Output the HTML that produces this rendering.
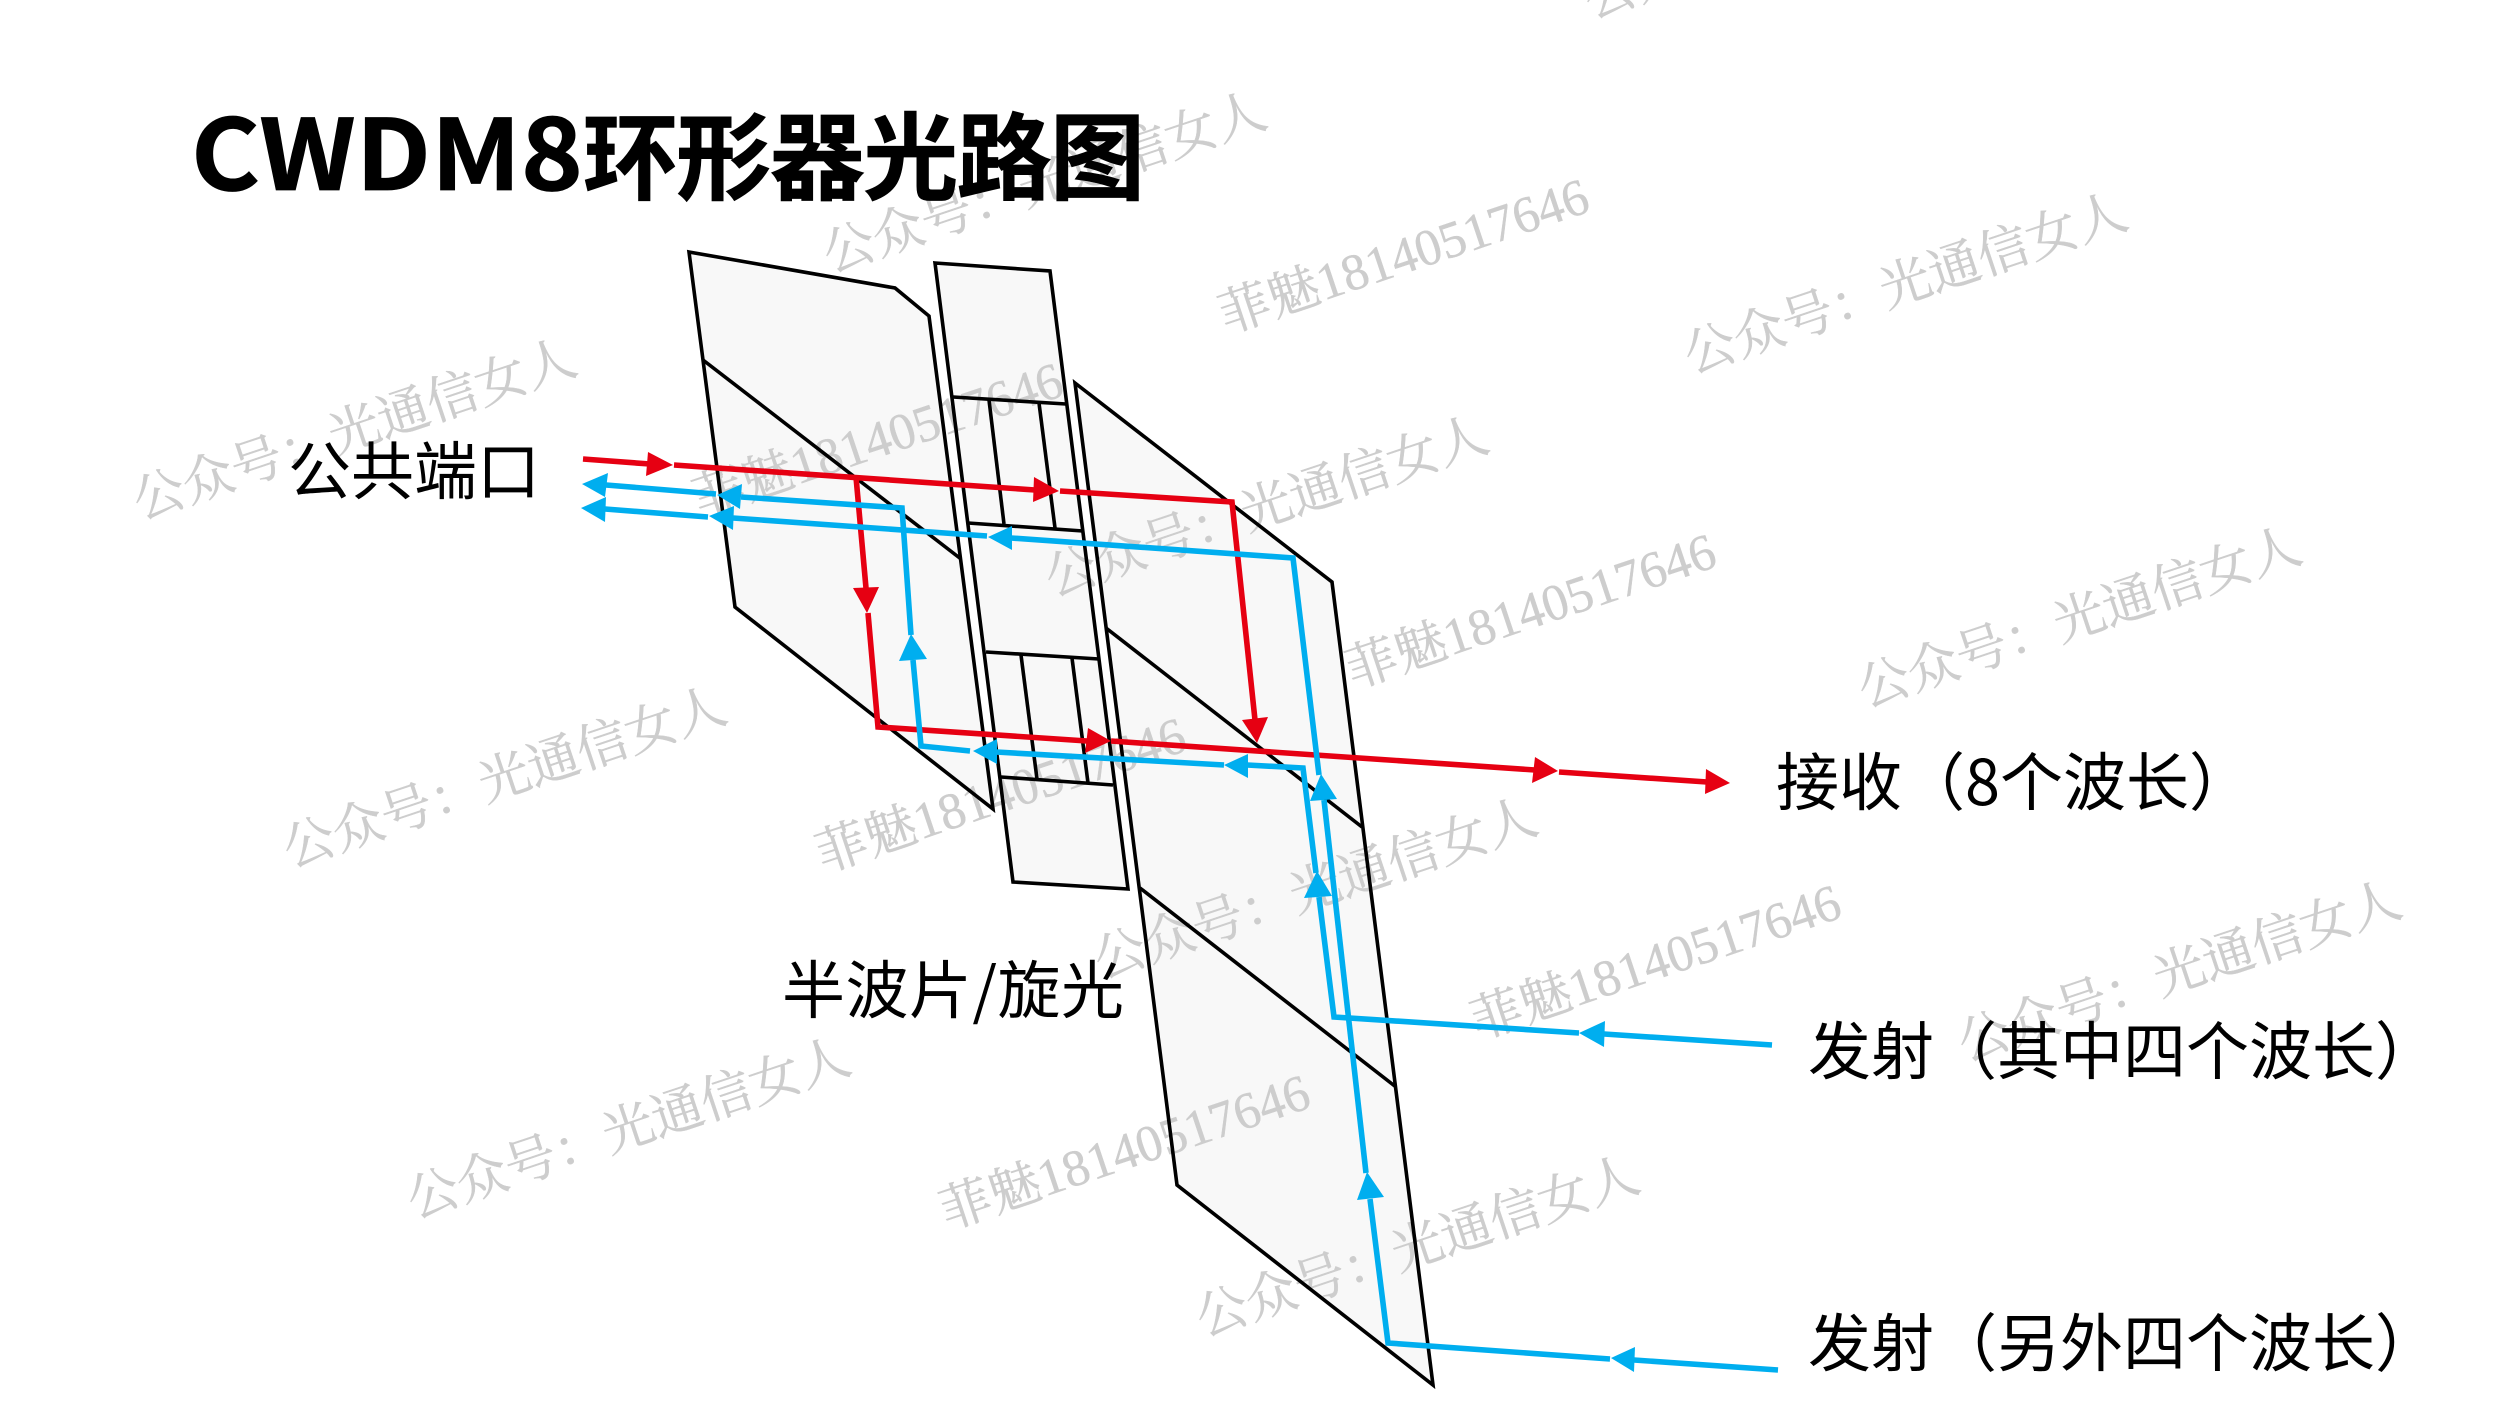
<!DOCTYPE html>
<html lang="zh">
<head>
<meta charset="utf-8">
<title>CWDM8环形器光路图</title>
<style>
html,body{margin:0;padding:0;background:#fff;width:2500px;height:1406px;overflow:hidden}
svg{display:block}
.f{fill:#f8f8f8;stroke:none}
.p{fill:none;stroke:#000;stroke-width:3.6;stroke-linejoin:miter}
.k{fill:none;stroke:#000;stroke-width:3.6}
.r{fill:none;stroke:#e60012;stroke-width:5.6;stroke-linejoin:miter}
.b{fill:none;stroke:#00aeef;stroke-width:5.6;stroke-linejoin:miter}
.ra{fill:#e60012}
.ba{fill:#00aeef}
.c{font-family:"Noto Sans CJK SC",sans-serif;font-size:63px;fill:#000}
.h{font-family:"Noto Sans CJK SC",sans-serif;font-weight:700;fill:#000;stroke:#000;stroke-width:.8}
.w{font-family:"Liberation Serif","Noto Serif CJK SC",serif;font-size:51.5px;fill:#cdcdcd;stroke:#cdcdcd;stroke-width:.4;text-anchor:middle}
</style>
</head>
<body>
<svg width="2500" height="1406" viewBox="0 0 2500 1406" xmlns="http://www.w3.org/2000/svg">
<rect width="2500" height="1406" fill="#fff"/>

<!-- prism fills -->
<polygon class="f" points="689,252 895,288 929,316 993,809 735,607"/>
<polygon class="f" points="935,263 1050,271 1128,889 1013,882"/>
<polygon class="f" points="1075,383 1332,582 1433,1385 1177,1185"/>

<!-- watermarks -->
<g>
<text class="w" transform="translate(360,446) rotate(-18.5)">公众号：光通信女人</text>
<text class="w" transform="translate(1050,199) rotate(-18.5)">公众号：光通信女人</text>
<text class="w" transform="translate(1911,300) rotate(-18.5)">公众号：光通信女人</text>
<text class="w" transform="translate(1272,523) rotate(-18.5)">公众号：光通信女人</text>
<text class="w" transform="translate(510,794) rotate(-18.5)">公众号：光通信女人</text>
<text class="w" transform="translate(2085,634) rotate(-18.5)">公众号：光通信女人</text>
<text class="w" transform="translate(1321,905) rotate(-18.5)">公众号：光通信女人</text>
<text class="w" transform="translate(2185,988) rotate(-18.5)">公众号：光通信女人</text>
<text class="w" transform="translate(634,1145) rotate(-18.5)">公众号：光通信女人</text>
<text class="w" transform="translate(1423,1263) rotate(-18.5)">公众号：光通信女人</text>
<text class="w" transform="translate(1811,-55) rotate(-18.5)">公众号：光通信女人</text>
<text class="w" transform="translate(1409,272) rotate(-18.5)">菲魅18140517646</text>
<text class="w" transform="translate(883,456) rotate(-18.5)">菲魅18140517646</text>
<text class="w" transform="translate(1536,627) rotate(-18.5)">菲魅18140517646</text>
<text class="w" transform="translate(1006,811) rotate(-18.5)">菲魅18140517646</text>
<text class="w" transform="translate(1661,978) rotate(-18.5)">菲魅18140517646</text>
<text class="w" transform="translate(1130,1168) rotate(-18.5)">菲魅18140517646</text>
</g>

<text class="h" x="191" y="190" font-size="98" textLength="392" lengthAdjust="spacingAndGlyphs">CWDM8</text>
<text class="h" x="583" y="192" font-size="95" textLength="562" lengthAdjust="spacing">环形器光路图</text>

<polygon class="p" points="689,252 895,288 929,316 993,809 735,607"/>
<line class="k" x1="703" y1="360" x2="961" y2="559"/>

<polygon class="p" points="935,263 1050,271 1128,889 1013,882"/>
<line class="k" x1="953" y1="397" x2="1066" y2="404"/>
<line class="k" x1="968" y1="523" x2="1083" y2="531"/>
<line class="k" x1="986" y1="652" x2="1099" y2="659"/>
<line class="k" x1="1001" y1="777" x2="1113" y2="785"/>
<line class="k" x1="989" y1="400" x2="1004" y2="524"/>
<line class="k" x1="1039" y1="403" x2="1055" y2="528"/>
<line class="k" x1="1021" y1="655" x2="1037" y2="779"/>
<line class="k" x1="1072" y1="658" x2="1088" y2="783"/>

<polygon class="p" points="1075,383 1332,582 1433,1385 1177,1185"/>
<line class="k" x1="1106" y1="628" x2="1362" y2="827"/>
<line class="k" x1="1140" y1="888" x2="1396" y2="1087"/>

<!-- red paths -->
<polyline class="r" points="583,459 650,464"/>
<polygon class="ra" points="648,452 673,465 646,476"/>
<polyline class="r" points="674,465 1035,490"/>
<polygon class="ra" points="1034,477 1059,491 1033,502"/>
<polyline class="r" points="1060,491 1232,502 1255,720"/>
<polygon class="ra" points="1242,720 1268,717 1257,743"/>
<polyline class="r" points="856,477 866,588"/>
<polygon class="ra" points="853,588 879,587 867,613"/>
<polyline class="r" points="868,613 878,727 1087,741"/>
<polygon class="ra" points="1088,728 1111,741 1085,753"/>
<polyline class="r" points="1111,741 1535,770"/>
<polygon class="ra" points="1535,757 1558,771 1532,783"/>
<polyline class="r" points="1559,772 1707,782"/>
<polygon class="ra" points="1706,769 1730,783 1705,794"/>

<!-- blue path 1 -->
<polyline class="b" points="1772,1045 1604,1034"/>
<polygon class="ba" points="1605,1021 1579,1033 1604,1047"/>
<polyline class="b" points="1579,1033 1334,1017 1319,897"/>
<polygon class="ba" points="1304,898 1317,871 1332,896"/>
<polyline class="b" points="1316,873 1303,768 1247,765"/>
<polygon class="ba" points="1248,754 1224,765 1248,778"/>
<polyline class="b" points="1224,765 996,752"/>
<polygon class="ba" points="997,739 973,751 997,764"/>
<polyline class="b" points="970,751 921,746 913,660"/>
<polygon class="ba" points="899,661 911,634 927,659"/>
<polyline class="b" points="911,635 902,508 741,497"/>
<polygon class="ba" points="742,484 717,495 740,509"/>
<polyline class="b" points="716,494 606,485"/>
<polygon class="ba" points="608,473 582,484 605,497"/>

<!-- blue path 2 -->
<polyline class="b" points="1778,1370 1634,1360"/>
<polygon class="ba" points="1635,1347 1611,1358 1634,1372"/>
<polyline class="b" points="1610,1359 1388,1343 1370,1199"/>
<polygon class="ba" points="1357,1200 1367,1172 1384,1197"/>
<polyline class="b" points="1366,1173 1324,800"/>
<polygon class="ba" points="1310,801 1321,774 1337,799"/>
<polyline class="b" points="1319,775 1293,558 1011,538"/>
<polygon class="ba" points="1012,526 988,537 1012,550"/>
<polyline class="b" points="987,536 733,518"/>
<polygon class="ba" points="734,506 709,516 733,530"/>
<polyline class="b" points="708,517 605,509"/>
<polygon class="ba" points="606,497 581,508 605,522"/>

<!-- labels -->
<text class="c" x="288" y="494">公共端口</text>
<text class="c" x="782" y="1013" textLength="342" lengthAdjust="spacing">半波片/旋光</text>
<text class="c" x="1776" y="805">接收（8个波长）</text>
<text class="c" x="1808" y="1074">发射（其中四个波长）</text>
<text class="c" x="1808" y="1366">发射（另外四个波长）</text>
</svg>
</body>
</html>
